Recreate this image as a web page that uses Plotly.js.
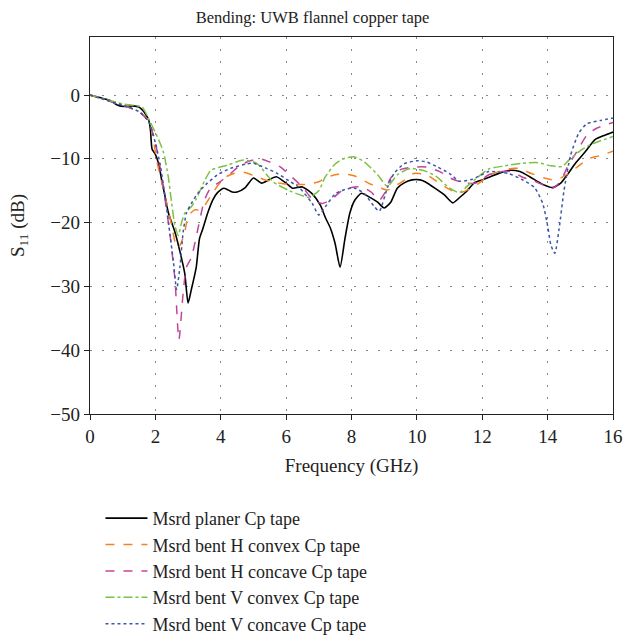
<!DOCTYPE html>
<html>
<head>
<meta charset="utf-8">
<script src="https://cdn.plot.ly/plotly-3.0.1.min.js"></script>
<style>html,body{margin:0;padding:0;background:#fff;}#chart{width:625px;height:638px;}</style>
</head>
<body>
<div id="chart"></div>
<script>
const seriesNames = [
  "Msrd planer Cp tape",
  "Msrd bent H convex Cp tape",
  "Msrd bent H concave Cp tape",
  "Msrd bent V convex Cp tape",
  "Msrd bent V concave Cp tape"
];

const planerF = [0,0.3,0.6,0.85,1.05,1.3,1.5,1.7,1.8,1.85,1.9,2.0,2.1,2.2,2.3,2.4,2.6,2.75,2.9,3.0,3.1,3.25,3.35,3.45,3.6,3.75,3.9,4.1,4.35,4.5,4.75,5.0,5.25,5.5,5.7,6.0,6.2,6.5,6.8,7.05,7.2,7.35,7.5,7.65,7.8,7.95,8.1,8.3,8.55,8.8,9.0,9.2,9.4,9.6,9.85,10.1,10.25,10.55,10.85,11.1,11.3,11.5,11.75,12.0,12.25,12.55,12.85,13.15,13.45,13.85,14.15,14.4,14.6,14.85,15.15,15.45,15.75,16];
const planerS = [0,-0.4,-0.8,-1.6,-1.8,-1.7,-1.9,-3.0,-4.0,-5.5,-8.5,-9.3,-10.8,-13.5,-16,-18.5,-21.5,-24.5,-28,-32.6,-30.5,-27,-22.5,-21,-18.5,-16.5,-15.3,-14.6,-15.2,-15.2,-14.5,-13,-13.8,-13.2,-12.8,-13.8,-14.6,-14.4,-15.5,-17.3,-19.2,-20.8,-23.3,-27,-22.5,-18.5,-16.5,-15.4,-16,-16.8,-17.7,-16.8,-14.6,-13.8,-13.3,-13.3,-13.6,-14.6,-15.7,-16.9,-16.1,-15.2,-13.8,-13.3,-12.8,-12.2,-11.8,-12,-12.8,-14,-14.5,-13.8,-12.5,-10.7,-8.9,-7,-6.3,-5.8];

const hConvexF = [0,0.5,1.0,1.5,1.8,1.9,2.05,2.2,2.35,2.5,2.6,2.7,2.8,2.9,3.0,3.2,3.4,3.55,3.8,4.1,4.4,4.7,5.0,5.3,5.6,5.9,6.2,6.6,7.0,7.2,7.5,7.8,8.1,8.3,8.6,8.9,9.1,9.3,9.6,9.9,10.3,10.6,10.9,11.2,11.4,11.7,11.9,12.2,12.5,12.9,13.1,13.5,13.9,14.2,14.4,14.7,15.0,15.3,15.6,16];
const hConvexS = [0,-0.8,-1.6,-2.6,-4.0,-5.8,-10.5,-13.8,-17,-20.5,-23,-24,-23,-21.5,-19,-18,-18,-17,-15,-13,-12.3,-12.1,-12.6,-13.2,-13.6,-13.9,-14,-14,-13.6,-13,-12.5,-12.4,-12.7,-13.2,-14,-14.6,-14.9,-14.4,-13.4,-12.3,-12.5,-13.5,-14.5,-15.3,-15.2,-14.5,-13.8,-12.6,-12,-11.5,-11.5,-12.3,-13,-13.3,-13,-12.1,-10.9,-9.9,-9.5,-8.8];

const hConcaveF = [0,0.5,1.0,1.5,1.8,2.0,2.15,2.3,2.45,2.6,2.72,2.85,2.95,3.1,3.3,3.5,3.7,3.95,4.3,4.6,4.9,5.2,5.5,5.8,6.1,6.5,6.8,7.1,7.4,7.7,8.0,8.3,8.6,8.85,9.0,9.2,9.5,9.9,10.3,10.7,11.1,11.5,11.8,12.2,12.6,12.9,13.2,13.6,13.9,14.15,14.4,14.6,14.9,15.2,15.5,16];
const hConcaveS = [0,-0.8,-1.6,-2.6,-4.2,-7.5,-11.5,-16.5,-22,-29,-38.4,-31,-27,-25.5,-21,-16.5,-14.5,-13.7,-12.3,-11,-10.3,-10,-10.5,-11.2,-12.5,-14.4,-16.3,-17,-16.3,-15,-14.5,-14.4,-15.2,-16.5,-15.5,-13,-11.7,-11.3,-11.3,-12,-13.2,-13.8,-13.8,-12.5,-12,-12,-12.8,-13.5,-14.2,-14.6,-13.5,-11.3,-8.8,-6.3,-5.2,-4.3];

const vConvexF = [0,0.5,1.0,1.3,1.6,1.8,2.1,2.25,2.4,2.5,2.6,2.7,2.8,2.9,3.0,3.1,3.25,3.5,3.7,4.2,4.7,5.1,5.6,6.1,6.7,7.0,7.2,7.5,7.8,8.1,8.4,8.8,9.1,9.4,9.8,10.3,10.6,11.0,11.3,11.6,12.2,12.7,13.2,13.7,14.1,14.45,14.65,15.0,15.3,15.6,16];
const vConvexS = [0,-0.7,-1.4,-1.6,-1.9,-3.8,-7,-9,-13,-17,-20.5,-22,-20,-18.5,-18,-17.5,-16.3,-13.5,-11.8,-11,-10.2,-10.7,-13.6,-15,-16,-15,-12.8,-10.8,-9.9,-9.7,-10.5,-12.5,-14.3,-12.5,-11.5,-12,-12.8,-14.6,-15.3,-14,-11.6,-11.1,-10.7,-10.6,-11.1,-11.2,-10.2,-8.7,-7.8,-7.2,-6.5];

const vConcaveF = [0,0.5,1.0,1.5,1.8,2.0,2.15,2.3,2.45,2.55,2.65,2.75,2.85,2.95,3.1,3.3,3.55,3.9,4.3,4.8,5.0,5.4,5.7,6.1,6.4,6.8,7.0,7.2,7.5,7.8,8.1,8.4,8.7,8.85,9.1,9.3,9.6,10.0,10.3,10.6,11.0,11.3,11.7,12.2,12.8,13.2,13.6,13.85,14.0,14.1,14.22,14.35,14.5,14.7,14.95,15.2,15.6,16];
const vConcaveS = [0,-0.8,-1.6,-2.6,-4.2,-7.5,-11,-16,-22,-26,-30.5,-27,-21.5,-18.5,-17,-15.4,-14,-12.5,-11.5,-10.8,-10.7,-11.5,-12.2,-13.5,-14.5,-17,-18.8,-17.5,-15.5,-14.8,-14.6,-15.5,-17.5,-18.2,-14.5,-12.3,-10.8,-10.3,-10.5,-11.2,-12.3,-13.5,-13.2,-12,-12.3,-13.2,-14.5,-17,-20.5,-23.5,-24.8,-21,-15,-9.5,-6,-4.5,-4,-3.6];

const xTicks = [0,2,4,6,8,10,12,14,16];
const yTicks = [0,-10,-20,-30,-40,-50];

const serif = "Liberation Serif, Times New Roman, serif";

const styles = [
  {color:"#000000", dash:"solid", width:1.6},
  {color:"#f58220", dash:"dash", width:1.5},
  {color:"#c2449b", dash:"dash", width:1.5},
  {color:"#7cc142", dash:"dashdot", width:1.5},
  {color:"#3d56a6", dash:"dot", width:1.5}
];
const xs = [planerF, hConvexF, hConcaveF, vConvexF, vConcaveF];
const ys = [planerS, hConvexS, hConcaveS, vConvexS, vConcaveS];

const traces = seriesNames.map((n,i)=>({
  x: xs[i], y: ys[i], name: n, type: "scatter", mode: "lines",
  legendgroup: "g"+i,
  line: {color: styles[i].color, dash: styles[i].dash, width: styles[i].width, shape: "spline", smoothing: 0.6}
}));

const layout = {
  width: 625, height: 638,
  margin: {l: 90, r: 12, t: 37, b: 224, autoexpand: false},
  paper_bgcolor: "#ffffff", plot_bgcolor: "#ffffff",
  font: {family: serif, size: 19, color: "#222"},
  title: {text: "Bending: UWB flannel copper tape", font: {family: serif, size: 16.5, color: "#222"}, x: 0.5, xanchor: "center", y: 0.973, yanchor: "middle"},
  xaxis: {
    range: [0,16], tickvals: xTicks, ticktext: xTicks.map(String),
    showline: true, linecolor: "#222", linewidth: 1.2, mirror: true,
    ticks: "outside", ticklen: 5, tickcolor: "#222",
    showgrid: true, gridcolor: "#888", griddash: "2px,10px", gridwidth: 1,
    zeroline: false,
    tickfont: {family: serif, size: 19, color: "#222"},
    title: {text: "Frequency (GHz)", font: {family: serif, size: 19, color: "#222"}, standoff: 12}
  },
  yaxis: {
    range: [-50, 9.1], tickvals: yTicks, ticktext: yTicks.map(v => v < 0 ? "\u2212" + Math.abs(v) : String(v)),
    showline: true, linecolor: "#222", linewidth: 1.2, mirror: true,
    ticks: "outside", ticklen: 5, tickcolor: "#222",
    showgrid: true, gridcolor: "#888", griddash: "2px,10px", gridwidth: 1,
    zeroline: false,
    tickfont: {family: serif, size: 19, color: "#222"},
    title: {text: "S<sub>11</sub> (dB)", font: {family: serif, size: 19, color: "#222"}, standoff: 20}
  },
  showlegend: true,
  legend: {
    x: 0.02, xanchor: "left", y: -0.228, yanchor: "top",
    orientation: "v", tracegroupgap: 0, itemwidth: 42,
    font: {family: serif, size: 18, color: "#222"},
    bgcolor: "rgba(0,0,0,0)", borderwidth: 0
  }
};

Plotly.newPlot("chart", traces, layout, {displayModeBar: false, staticPlot: true});
</script>
</body>
</html>
